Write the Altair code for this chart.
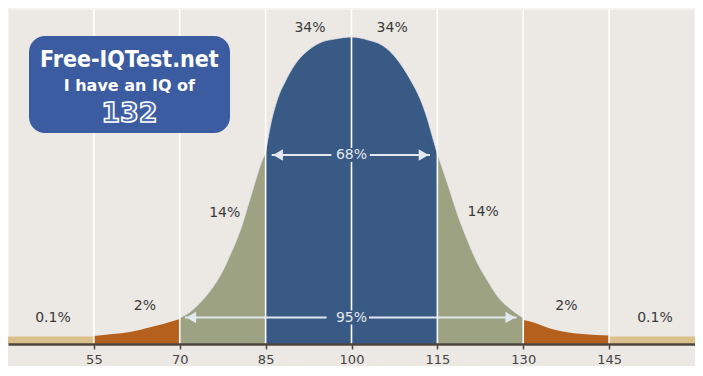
import altair as alt
import pandas as pd

# ---- data ----
# curve segments: IQ value and curve height (arbitrary units, plot top = 335)
tail_l_iq = [40, 55]
tail_l_h = [7.5, 7.5]
orange_l_iq = [55, 58.3, 61.3, 64.3, 67.1, 70]
orange_l_h = [8, 10, 12, 16, 20, 25]
green_l_iq = [70, 71.8, 73.5, 75.8, 77.6, 78.8, 80, 80.9, 81.7, 82.8, 83.7, 84.5, 85]
green_l_h = [26, 32, 41, 57, 74, 89, 105, 119, 134, 155, 172, 185, 191]
blue_iq = [85, 85.4, 85.9, 86.6, 87.4, 88.3, 89.3, 90.7, 92.5, 94.8, 97.1, 100,
           102.9, 105.3, 107.0, 108.8, 110.5, 112.0, 113.2, 114.3, 115]
blue_h = [191, 205, 220, 236, 250, 261, 272, 284, 294, 302, 305, 307,
          304, 299, 291, 278, 262, 245, 226, 204, 190]
green_r_iq = [115, 116.8, 118.5, 120.3, 122, 123.8, 125.6, 128, 130]
green_r_h = [190, 160, 130, 103, 81, 63, 47, 34, 26]
orange_r_iq = [130, 132.1, 134.4, 137.4, 140.3, 145]
orange_r_h = [24, 21, 16, 12, 10, 8.5]
tail_r_iq = [145, 160]
tail_r_h = [7.5, 7.5]

tick_values = [55, 70, 85, 100, 115, 130, 145]

pct_labels = ["34%", "34%", "14%", "14%", "2%", "2%", "0.1%", "0.1%"]
pct_iq = [92.75, 107.1, 77.85, 123.0, 63.9, 137.55, 47.85, 153.0]
pct_h = [316, 316, 131.5, 132, 38, 38, 26, 26]

inner_labels = ["68%", "95%"]
inner_iq = [100, 100]
inner_h = [189, 26.5]
# arrow spans (tip to tip) and text gaps
arrow_from = [86.06, 70.9]
arrow_to = [113.7, 128.85]
gap_from = [96.5, 95.65]
gap_to = [103.2, 103.05]

badge_lines = ["Free-IQTest.net", "I have an IQ of", "132"]

W, H = 687, 335

segs = []
for name, xs_, hs in [("tail_l", tail_l_iq, tail_l_h), ("orange_l", orange_l_iq, orange_l_h),
                      ("green_l", green_l_iq, green_l_h), ("blue", blue_iq, blue_h),
                      ("green_r", green_r_iq, green_r_h), ("orange_r", orange_r_iq, orange_r_h),
                      ("tail_r", tail_r_iq, tail_r_h)]:
    for x, h in zip(xs_, hs):
        segs.append({"iq": x, "h": h, "seg": name})
curve = pd.DataFrame(segs)

seg_domain = ["tail_l", "orange_l", "green_l", "blue", "green_r", "orange_r", "tail_r"]
seg_range = ["#dcc08c", "#b5611d", "#9da283", "#395a84", "#9da283", "#b5611d", "#dcc08c"]

xs = alt.Scale(domain=[40, 160], nice=False, zero=False)
ys = alt.Scale(domain=[0, 335], nice=False, zero=True)

area = alt.Chart(curve).mark_area(interpolate="monotone").encode(
    x=alt.X("iq:Q", scale=xs,
            axis=alt.Axis(values=tick_values, title=None, grid=False,
                          domainColor="#4e463e", domainWidth=2.5,
                          tickColor="#4e463e", tickSize=5, tickWidth=1.5,
                          labelFont="DejaVu Sans", labelFontSize=13,
                          labelColor="#444444", labelPadding=4, zindex=1)),
    y=alt.Y("h:Q", scale=ys, stack=None, axis=None),
    color=alt.Color("seg:N", scale=alt.Scale(domain=seg_domain, range=seg_range), legend=None),
    detail="seg:N",
)

edge = alt.Chart(curve[curve.seg.isin(["green_l", "blue", "green_r"])]).mark_line(
    interpolate="monotone", color="#dfe6ee", strokeWidth=1, opacity=0.7
).encode(x=alt.X("iq:Q", scale=xs), y=alt.Y("h:Q", scale=ys), detail="seg:N")

vlines = alt.Chart(pd.DataFrame({"iq": tick_values})).mark_rule(
    color="white", strokeWidth=1.6
).encode(x=alt.X("iq:Q", scale=xs))

inner = pd.DataFrame({"label": inner_labels, "iq": inner_iq, "h": inner_h,
                      "a0": arrow_from, "a1": arrow_to, "g0": gap_from, "g1": gap_to})
inner["lo"] = inner["h"] - 7
inner["hi"] = inner["h"] + 7

gap_rect = alt.Chart(inner).mark_rect(color="#395a84").encode(
    x=alt.X("g0:Q", scale=xs), x2="g1:Q",
    y=alt.Y("lo:Q", scale=ys), y2="hi:Q")

arr_l = alt.Chart(inner).mark_rule(color="#e3e8ef", strokeWidth=2).encode(
    x=alt.X("a0:Q", scale=xs), x2="g0:Q", y=alt.Y("h:Q", scale=ys))
arr_r = alt.Chart(inner).mark_rule(color="#e3e8ef", strokeWidth=2).encode(
    x=alt.X("g1:Q", scale=xs), x2="a1:Q", y=alt.Y("h:Q", scale=ys))
inner["head_l"] = inner["a0"] + 1.1
inner["head_r"] = inner["a1"] - 1.1
head_l = alt.Chart(inner).mark_point(shape="triangle-left", filled=True, size=130,
                                     color="#e3e8ef", opacity=1).encode(
    x=alt.X("head_l:Q", scale=xs), y=alt.Y("h:Q", scale=ys))
head_r = alt.Chart(inner).mark_point(shape="triangle-right", filled=True, size=130,
                                     color="#e3e8ef", opacity=1).encode(
    x=alt.X("head_r:Q", scale=xs), y=alt.Y("h:Q", scale=ys))
inner_text = alt.Chart(inner).mark_text(font="DejaVu Sans", fontSize=14,
                                        color="#e3e8ef", baseline="middle").encode(
    x=alt.X("iq:Q", scale=xs), y=alt.Y("h:Q", scale=ys), text="label:N")

pct = alt.Chart(pd.DataFrame({"label": pct_labels, "iq": pct_iq, "h": pct_h})).mark_text(
    font="DejaVu Sans", fontSize=14, color="#3a3a3a", baseline="middle"
).encode(x=alt.X("iq:Q", scale=xs), y=alt.Y("h:Q", scale=ys), text="label:N")

# badge (in data coordinates)
badge = pd.DataFrame({"x0": [43.67], "x1": [78.78], "y0": [211], "y1": [308]})
badge_rect = alt.Chart(badge).mark_rect(color="#3b5ca1", cornerRadius=16).encode(
    x=alt.X("x0:Q", scale=xs), x2="x1:Q", y=alt.Y("y0:Q", scale=ys), y2="y1:Q")
b1 = alt.Chart(pd.DataFrame({"t": [badge_lines[0]], "iq": [61.2], "h": [284]})).mark_text(
    font="Liberation Sans Narrow, DejaVu Sans Condensed, Liberation Sans", fontWeight="bold",
    fontSize=23, color="white", baseline="middle"
).encode(x=alt.X("iq:Q", scale=xs), y=alt.Y("h:Q", scale=ys), text="t:N")
b2 = alt.Chart(pd.DataFrame({"t": [badge_lines[1]], "iq": [61.2], "h": [258]})).mark_text(
    font="DejaVu Sans", fontWeight="bold", fontSize=16, color="white", baseline="middle"
).encode(x=alt.X("iq:Q", scale=xs), y=alt.Y("h:Q", scale=ys), text="t:N")
b3 = alt.Chart(pd.DataFrame({"t": [badge_lines[2]], "iq": [61.2], "h": [230.5]})).mark_text(
    font="DejaVu Sans", fontWeight="bold", fontSize=27, color="#4a6ab0",
    stroke="white", strokeWidth=1.6, baseline="middle"
).encode(x=alt.X("iq:Q", scale=xs), y=alt.Y("h:Q", scale=ys), text="t:N")

chart = alt.layer(
    area, edge, vlines, gap_rect, arr_l, arr_r, head_l, head_r, inner_text, pct,
    badge_rect, b1, b2, b3
).properties(width=W, height=H, padding=0, background="#ece8e4").configure_view(
    stroke="#f6f4f1", strokeWidth=1.5
)

chart.save("out.html", embed_options={"renderer": "svg", "actions": False})
